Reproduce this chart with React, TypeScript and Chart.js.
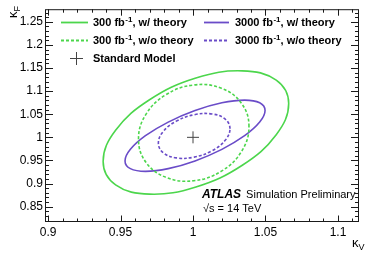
import React, { useEffect, useRef } from "react";
import { Chart, registerables } from "chart.js";

Chart.register(...registerables);

// ---- data (kappa_V, kappa_F) ----
const xTicks = [0.9, 0.95, 1, 1.05, 1.1];
const yTicks = [0.85, 0.9, 0.95, 1, 1.05, 1.1, 1.15, 1.2, 1.25];
const xRange = [0.8979, 1.1145];
const yRange = [0.8168, 1.2773];

const c300WithTheory: [number, number][] = [
  [1.066, 1.0732], [1.0574, 1.1237], [1.034, 1.1439], [1.002, 1.1284],
  [0.97, 1.0813], [0.9466, 1.0152], [0.938, 0.9478], [0.9466, 0.8973],
  [0.97, 0.8771], [1.002, 0.8926], [1.034, 0.9397], [1.0574, 1.0058],
];
const c300NoTheory: [number, number][] = [
  [1.0386, 1.0233], [1.0335, 1.0733], [1.0196, 1.1062], [1.0005, 1.1133],
  [0.9815, 1.0926], [0.9675, 1.0497], [0.9624, 0.9961], [0.9675, 0.9461],
  [0.9815, 0.9132], [1.0005, 0.9061], [1.0196, 0.9268], [1.0335, 0.9697],
];
const c3000WithTheory: [number, number][] = [
  [1.0497, 1.058], [1.046, 1.0747], [1.0356, 1.0806], [1.0199, 1.0747],
  [1.0014, 1.058], [0.9829, 1.033], [0.9672, 1.0035], [0.9568, 0.974],
  [0.9531, 0.949], [0.9568, 0.9323], [0.9672, 0.9264], [0.9829, 0.9323],
  [1.0014, 0.949], [1.0199, 0.974], [1.0356, 1.0035], [1.046, 1.033],
];
const c3000NoTheory: [number, number][] = [
  [1.0255, 1.0186], [1.0222, 1.0395], [1.0132, 1.0506], [1.0008, 1.0489],
  [0.9885, 1.035], [0.9794, 1.0125], [0.9761, 0.9875], [0.9794, 0.9667],
  [0.9885, 0.9555], [1.0008, 0.9572], [1.0132, 0.9711], [1.0222, 0.9936],
];
const smPoint: [number, number] = [1, 1];

const seriesLumi = ["300", "300", "3000", "3000"];
const seriesSuffix = [", w/ theory", ", w/o theory", ", w/ theory", ", w/o theory"];
const seriesColors = ["#4cd64c", "#4cd64c", "#6a4cc8", "#6a4cc8"];
const seriesDashed = [false, true, false, true];
const seriesPoints = [c300WithTheory, c300NoTheory, c3000WithTheory, c3000NoTheory];

const FONT = "'Liberation Sans', Arial, Helvetica, sans-serif";

function drawLegendText(ctx: CanvasRenderingContext2D, x: number, y: number, lumi: string, suffix: string) {
  ctx.font = `bold 11px ${FONT}`;
  ctx.textBaseline = "alphabetic";
  ctx.textAlign = "left";
  const a = `${lumi} fb`;
  ctx.fillText(a, x, y);
  let cx = x + ctx.measureText(a).width;
  ctx.font = `bold 8px ${FONT}`;
  ctx.fillText("-1", cx + 0.5, y - 4.5);
  cx += ctx.measureText("-1").width + 0.5;
  ctx.font = `bold 11px ${FONT}`;
  ctx.fillText(suffix, cx, y);
}

// make the contour lines closed, smooth loops
const loopPlugin = {
  id: "closedLoops",
  beforeDatasetsDraw(chart: any) {
    chart.data.datasets.forEach((d: any, i: number) => {
      if (!d.closedLoop) return;
      const el = chart.getDatasetMeta(i).dataset;
      if (!el) return;
      el._loop = true;
      el._fullLoop = true;
      el._segments = undefined;
      el._path = undefined;
      el._pointsUpdated = false;
      el.updateControlPoints(chart.chartArea, "x");
      el._path = undefined;
    });
  },
};

const decorPlugin = {
  id: "decor",
  afterDraw(chart: any) {
    const { ctx, chartArea: a, scales } = chart;
    const xs = scales.x;
    const ys = scales.y;
    ctx.save();
    // frame
    ctx.strokeStyle = "#1a1a1a";
    ctx.lineWidth = 1;
    ctx.strokeRect(a.left + 0.5, a.top + 0.5, a.right - a.left - 1, a.bottom - a.top - 1);
    // x ticks (bottom and top)
    ctx.beginPath();
    for (let i = 89; i <= 112; i++) {
      const v = i / 100;
      if (v < xRange[0] || v > xRange[1]) continue;
      const px = Math.round(xs.getPixelForValue(v)) + 0.5;
      const len = i % 5 === 0 ? 6.5 : 3.5;
      ctx.moveTo(px, a.bottom);
      ctx.lineTo(px, a.bottom - len);
      ctx.moveTo(px, a.top);
      ctx.lineTo(px, a.top + len);
    }
    // y ticks (left and right)
    for (let i = 81; i <= 128; i++) {
      const v = i / 100;
      if (v < yRange[0] || v > yRange[1]) continue;
      const py = Math.round(ys.getPixelForValue(v)) + 0.5;
      const len = i % 5 === 0 ? 8 : 4;
      ctx.moveTo(a.left, py);
      ctx.lineTo(a.left + len, py);
      ctx.moveTo(a.right, py);
      ctx.lineTo(a.right - len, py);
    }
    ctx.stroke();

    // legend
    const rows = [22, 40];
    const cols = [{ l0: 61, l1: 88, t: 93 }, { l0: 204, l1: 229, t: 235 }];
    for (let s = 0; s < 4; s++) {
      const col = cols[s < 2 ? 0 : 1];
      const ry = rows[s % 2];
      ctx.strokeStyle = seriesColors[s];
      ctx.lineWidth = 1.8;
      ctx.setLineDash(seriesDashed[s] ? [3, 2] : []);
      ctx.beginPath();
      ctx.moveTo(col.l0, ry + 0.5);
      ctx.lineTo(col.l1, ry + 0.5);
      ctx.stroke();
      ctx.setLineDash([]);
      ctx.fillStyle = "#000";
      drawLegendText(ctx, col.t, ry + 4, seriesLumi[s], seriesSuffix[s]);
    }
    // SM legend entry
    ctx.strokeStyle = "#444";
    ctx.lineWidth = 1;
    ctx.beginPath();
    ctx.moveTo(70, 58.5);
    ctx.lineTo(83, 58.5);
    ctx.moveTo(76.5, 52);
    ctx.lineTo(76.5, 65);
    ctx.stroke();
    ctx.fillStyle = "#000";
    ctx.font = `bold 11px ${FONT}`;
    ctx.fillText("Standard Model", 93, 62);

    // ATLAS label
    ctx.font = `italic bold 12px ${FONT}`;
    ctx.fillText("ATLAS", 202, 198);
    const w = ctx.measureText("ATLAS").width;
    ctx.font = `11px ${FONT}`;
    ctx.fillText("Simulation Preliminary", 202 + w + 5, 198);
    ctx.fillText("\u221As = 14 TeV", 203, 212);

    // axis titles
    ctx.font = `13px ${FONT}`;
    ctx.fillText("\u03BA", 352, 247);
    const kw = ctx.measureText("\u03BA").width;
    ctx.font = `9px ${FONT}`;
    ctx.fillText("V", 352 + kw, 250);

    ctx.save();
    ctx.translate(17, 18);
    ctx.rotate(-Math.PI / 2);
    ctx.font = `13px ${FONT}`;
    ctx.fillText("\u03BA", 0, 0);
    const kw2 = ctx.measureText("\u03BA").width;
    ctx.font = `9px ${FONT}`;
    ctx.fillText("F", kw2, 3);
    ctx.restore();

    ctx.restore();
  },
};

export default function App() {
  const ref = useRef<HTMLCanvasElement | null>(null);
  useEffect(() => {
    if (!ref.current) return;
    const datasets: any[] = seriesPoints.map((pts, s) => ({
      label: `${seriesLumi[s]} fb-1${seriesSuffix[s]}`,
      data: pts.map(([x, y]) => ({ x, y })),
      closedLoop: true,
      showLine: true,
      tension: 0.4,
      borderColor: seriesColors[s],
      borderWidth: 1.6,
      borderDash: seriesDashed[s] ? [3, 2] : [],
      pointRadius: 0,
      fill: false,
    }));
    datasets.push({
      label: "Standard Model",
      data: [{ x: smPoint[0], y: smPoint[1] }],
      showLine: false,
      pointStyle: "cross",
      pointRadius: 6,
      borderColor: "#444",
      borderWidth: 1,
      backgroundColor: "#444",
    });
    const tickFont = { family: FONT, size: 12 };
    const chart = new Chart(ref.current, {
      type: "scatter",
      data: { datasets },
      options: {
        animation: false,
        responsive: false,
        maintainAspectRatio: false,
        layout: { padding: { top: 5, right: 11, left: 0, bottom: 0 } },
        plugins: { legend: { display: false }, tooltip: { enabled: false } },
        scales: {
          x: {
            type: "linear",
            min: xRange[0],
            max: xRange[1],
            grid: { display: false, drawTicks: false },
            border: { display: false },
            afterBuildTicks: (s: any) => {
              s.ticks = xTicks.map((v) => ({ value: v }));
            },
            afterFit: (s: any) => {
              s.height = 40;
            },
            ticks: {
              font: tickFont,
              color: "#000",
              padding: 3,
              maxRotation: 0,
              autoSkip: false,
              callback: (v: any) => String(+Number(v).toFixed(2)),
            },
          },
          y: {
            type: "linear",
            min: yRange[0],
            max: yRange[1],
            grid: { display: false, drawTicks: false },
            border: { display: false },
            afterBuildTicks: (s: any) => {
              s.ticks = yTicks.map((v) => ({ value: v }));
            },
            afterFit: (s: any) => {
              s.width = 45;
            },
            ticks: {
              font: tickFont,
              color: "#000",
              padding: 2,
              autoSkip: false,
              callback: (v: any) => String(+Number(v).toFixed(2)),
            },
          },
        },
      },
      plugins: [loopPlugin, decorPlugin],
    } as any);
    return () => chart.destroy();
  }, []);
  return (
    <div style={{ position: "absolute", left: 0, top: 0, width: 370, height: 262, background: "#fff" }}>
      <canvas ref={ref} width={370} height={262} style={{ display: "block" }} />
    </div>
  );
}
